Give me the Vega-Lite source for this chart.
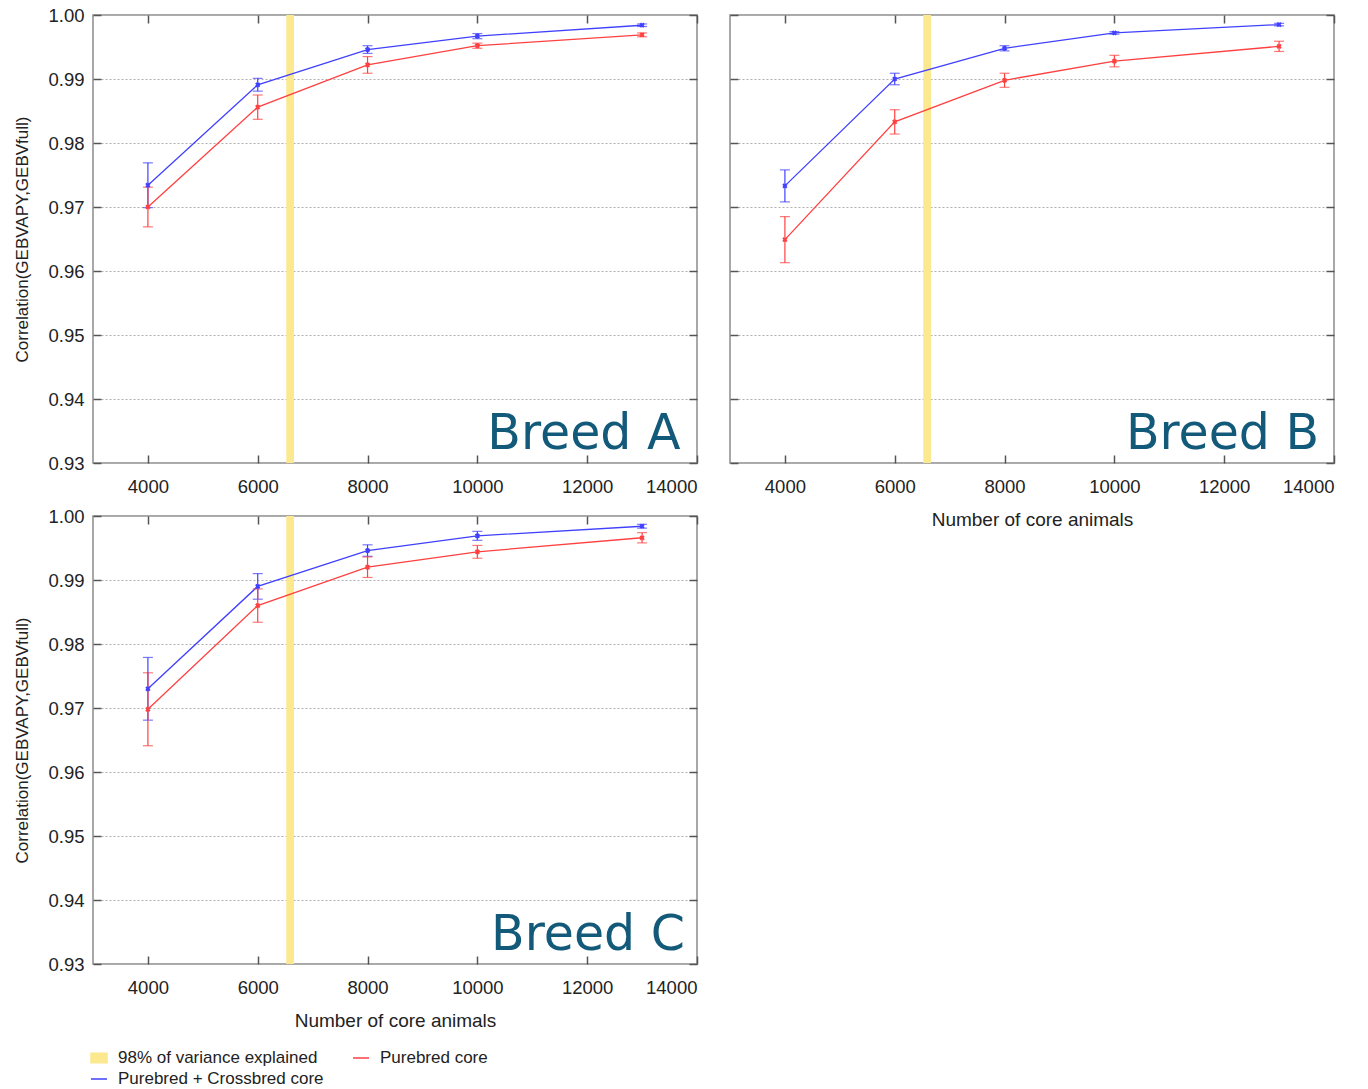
{
  "$schema": "https://vega.github.io/schema/vega-lite/v6.json",
  "background": "white",
  "padding": {"left": 13, "top": 5, "right": 5, "bottom": 5},
  "datasets": {
    "pts": [
      {"panel": "A", "series": "Purebred + Crossbred core", "n": 4000, "r": 0.9734, "lo": 0.9699, "hi": 0.9769},
      {"panel": "A", "series": "Purebred + Crossbred core", "n": 6000, "r": 0.9891, "lo": 0.9881, "hi": 0.9901},
      {"panel": "A", "series": "Purebred + Crossbred core", "n": 8000, "r": 0.9946, "lo": 0.9940, "hi": 0.9952},
      {"panel": "A", "series": "Purebred + Crossbred core", "n": 10000, "r": 0.9967, "lo": 0.9963, "hi": 0.9971},
      {"panel": "A", "series": "Purebred + Crossbred core", "n": 13000, "r": 0.9984, "lo": 0.9982, "hi": 0.9986},
      {"panel": "A", "series": "Purebred core", "n": 4000, "r": 0.9700, "lo": 0.9669, "hi": 0.9731},
      {"panel": "A", "series": "Purebred core", "n": 6000, "r": 0.9856, "lo": 0.9837, "hi": 0.9875},
      {"panel": "A", "series": "Purebred core", "n": 8000, "r": 0.9922, "lo": 0.9909, "hi": 0.9935},
      {"panel": "A", "series": "Purebred core", "n": 10000, "r": 0.9952, "lo": 0.9948, "hi": 0.9956},
      {"panel": "A", "series": "Purebred core", "n": 13000, "r": 0.9969, "lo": 0.9966, "hi": 0.9972},
      {"panel": "B", "series": "Purebred + Crossbred core", "n": 4000, "r": 0.9733, "lo": 0.9708, "hi": 0.9758},
      {"panel": "B", "series": "Purebred + Crossbred core", "n": 6000, "r": 0.9900, "lo": 0.9891, "hi": 0.9909},
      {"panel": "B", "series": "Purebred + Crossbred core", "n": 8000, "r": 0.9948, "lo": 0.9944, "hi": 0.9952},
      {"panel": "B", "series": "Purebred + Crossbred core", "n": 10000, "r": 0.9972, "lo": 0.9970, "hi": 0.9974},
      {"panel": "B", "series": "Purebred + Crossbred core", "n": 13000, "r": 0.9985, "lo": 0.9983, "hi": 0.9987},
      {"panel": "B", "series": "Purebred core", "n": 4000, "r": 0.9649, "lo": 0.9613, "hi": 0.9685},
      {"panel": "B", "series": "Purebred core", "n": 6000, "r": 0.9833, "lo": 0.9814, "hi": 0.9852},
      {"panel": "B", "series": "Purebred core", "n": 8000, "r": 0.9898, "lo": 0.9887, "hi": 0.9909},
      {"panel": "B", "series": "Purebred core", "n": 10000, "r": 0.9928, "lo": 0.9919, "hi": 0.9937},
      {"panel": "B", "series": "Purebred core", "n": 13000, "r": 0.9951, "lo": 0.9943, "hi": 0.9959},
      {"panel": "C", "series": "Purebred + Crossbred core", "n": 4000, "r": 0.9730, "lo": 0.9681, "hi": 0.9779},
      {"panel": "C", "series": "Purebred + Crossbred core", "n": 6000, "r": 0.9890, "lo": 0.9870, "hi": 0.9910},
      {"panel": "C", "series": "Purebred + Crossbred core", "n": 8000, "r": 0.9946, "lo": 0.9937, "hi": 0.9955},
      {"panel": "C", "series": "Purebred + Crossbred core", "n": 10000, "r": 0.9969, "lo": 0.9962, "hi": 0.9976},
      {"panel": "C", "series": "Purebred + Crossbred core", "n": 13000, "r": 0.9984, "lo": 0.9981, "hi": 0.9987},
      {"panel": "C", "series": "Purebred core", "n": 4000, "r": 0.9698, "lo": 0.9641, "hi": 0.9755},
      {"panel": "C", "series": "Purebred core", "n": 6000, "r": 0.9860, "lo": 0.9834, "hi": 0.9886},
      {"panel": "C", "series": "Purebred core", "n": 8000, "r": 0.9920, "lo": 0.9904, "hi": 0.9936},
      {"panel": "C", "series": "Purebred core", "n": 10000, "r": 0.9944, "lo": 0.9934, "hi": 0.9954},
      {"panel": "C", "series": "Purebred core", "n": 13000, "r": 0.9966, "lo": 0.9958, "hi": 0.9974}
    ],
    "band": [{"name": "98% of variance explained", "start": 6520, "end": 6660}],
    "labels": [
      {"panel": "A", "label": "Breed A"},
      {"panel": "B", "label": "Breed B"},
      {"panel": "C", "label": "Breed C"}
    ]
  },
  "concat": [
    {
      "width": 604, "height": 448,
      "layer": [
        {
          "data": {"name": "band"},
          "mark": {"type": "rect"},
          "encoding": {
            "x": {"field": "start", "type": "quantitative", "scale": {"domain": [3000, 14000], "nice": false, "zero": false},
                  "axis": {"orient": "bottom", "values": [4000, 6000, 8000, 10000, 12000, 14000], "format": "d", "title": null, "labelPadding": 22}},
            "x2": {"field": "end"},
            "color": {"field": "name", "type": "nominal",
                      "scale": {"domain": ["98% of variance explained", "Purebred + Crossbred core", "Purebred core"], "range": ["#fce88e", "#4040ff", "#ff4040"]},
                      "legend": {"title": null, "values": ["98% of variance explained", "Purebred + Crossbred core", "Purebred core"], "encode": {"symbols": {"update": {
                        "shape": {"signal": "datum.value === '98% of variance explained' ? 'M-1,-0.6H1V0.6H-1Z' : 'stroke'"},
                        "fill": {"signal": "datum.value === '98% of variance explained' ? '#fce88e' : 'transparent'"},
                        "stroke": {"signal": "datum.value === '98% of variance explained' ? '#fce88e' : (datum.value === 'Purebred core' ? '#ff4040' : '#4040ff')"},
                        "strokeWidth": {"value": 1.5},
                        "opacity": {"value": 1}
                      }}}}}
          }
        },
        {
          "data": {"name": "pts"},
          "transform": [{"filter": "datum.panel === 'A'"}],
          "mark": {"type": "line", "strokeWidth": 1.3},
          "encoding": {
            "x": {"field": "n", "type": "quantitative", "axis": {"orient": "top", "values": [4000, 6000, 8000, 10000, 12000, 14000], "labels": false, "title": null}},
            "y": {"field": "r", "type": "quantitative", "scale": {"domain": [0.93, 1.0], "nice": false, "zero": false},
                  "axis": {"orient": "left", "values": [0.93, 0.94, 0.95, 0.96, 0.97, 0.98, 0.99, 1.0], "format": ".2f", "grid": true, "labelPadding": 17, "title": "Correlation(GEBVAPY,GEBVfull)", "titlePadding": 16}},
            "color": {"field": "series", "type": "nominal", "scale": {"domain": ["98% of variance explained", "Purebred + Crossbred core", "Purebred core"], "range": ["#fce88e", "#4040ff", "#ff4040"]}}
          }
        },
        {
          "data": {"name": "pts"},
          "transform": [{"filter": "datum.panel === 'A'"}],
          "mark": {"type": "errorbar", "ticks": {"size": 10}, "thickness": 1.2},
          "encoding": {
            "x": {"field": "n", "type": "quantitative", "axis": null},
            "y": {"field": "lo", "type": "quantitative", "axis": {"orient": "right", "values": [0.93, 0.94, 0.95, 0.96, 0.97, 0.98, 0.99, 1.0], "labels": false, "title": null}},
            "y2": {"field": "hi"},
            "color": {"field": "series", "type": "nominal", "scale": {"domain": ["98% of variance explained", "Purebred + Crossbred core", "Purebred core"], "range": ["#fce88e", "#4040ff", "#ff4040"]}}
          }
        },
        {
          "data": {"name": "pts"},
          "transform": [{"filter": "datum.panel === 'A'"}],
          "mark": {"type": "point", "shape": "cross", "angle": 45, "filled": true, "size": 28, "opacity": 1},
          "encoding": {
            "x": {"field": "n", "type": "quantitative", "axis": null},
            "y": {"field": "r", "type": "quantitative", "axis": null},
            "color": {"field": "series", "type": "nominal", "scale": {"domain": ["98% of variance explained", "Purebred + Crossbred core", "Purebred core"], "range": ["#fce88e", "#4040ff", "#ff4040"]}}
          }
        },
        {
          "data": {"name": "labels"},
          "transform": [{"filter": "datum.panel === 'A'"}],
          "mark": {"type": "text", "align": "right", "baseline": "alphabetic", "font": "DejaVu Sans", "fontSize": 49, "color": "#135a7a"},
          "encoding": {
            "x": {"datum": 13700, "type": "quantitative", "axis": null},
            "y": {"datum": 0.9322, "type": "quantitative", "axis": null},
            "text": {"field": "label"}
          }
        }
      ],
      "resolve": {"axis": {"x": "independent", "y": "independent"}}
    },
    {
      "width": 604, "height": 448,
      "layer": [
        {
          "data": {"name": "band"},
          "mark": {"type": "rect"},
          "encoding": {
            "x": {"field": "start", "type": "quantitative", "scale": {"domain": [3000, 14000], "nice": false, "zero": false},
                  "axis": {"orient": "bottom", "values": [4000, 6000, 8000, 10000, 12000, 14000], "format": "d", "title": "Number of core animals", "labelPadding": 22, "titlePadding": 15}},
            "x2": {"field": "end"},
            "color": {"field": "name", "type": "nominal", "scale": {"domain": ["98% of variance explained", "Purebred + Crossbred core", "Purebred core"], "range": ["#fce88e", "#4040ff", "#ff4040"]}}
          }
        },
        {
          "data": {"name": "pts"},
          "transform": [{"filter": "datum.panel === 'B'"}],
          "mark": {"type": "line", "strokeWidth": 1.3},
          "encoding": {
            "x": {"field": "n", "type": "quantitative", "axis": {"orient": "top", "values": [4000, 6000, 8000, 10000, 12000, 14000], "labels": false, "title": null}},
            "y": {"field": "r", "type": "quantitative", "scale": {"domain": [0.93, 1.0], "nice": false, "zero": false},
                  "axis": {"orient": "left", "values": [0.93, 0.94, 0.95, 0.96, 0.97, 0.98, 0.99, 1.0], "grid": true, "labels": false, "title": null}},
            "color": {"field": "series", "type": "nominal", "scale": {"domain": ["98% of variance explained", "Purebred + Crossbred core", "Purebred core"], "range": ["#fce88e", "#4040ff", "#ff4040"]}}
          }
        },
        {
          "data": {"name": "pts"},
          "transform": [{"filter": "datum.panel === 'B'"}],
          "mark": {"type": "errorbar", "ticks": {"size": 10}, "thickness": 1.2},
          "encoding": {
            "x": {"field": "n", "type": "quantitative", "axis": null},
            "y": {"field": "lo", "type": "quantitative", "axis": {"orient": "right", "values": [0.93, 0.94, 0.95, 0.96, 0.97, 0.98, 0.99, 1.0], "labels": false, "title": null}},
            "y2": {"field": "hi"},
            "color": {"field": "series", "type": "nominal", "scale": {"domain": ["98% of variance explained", "Purebred + Crossbred core", "Purebred core"], "range": ["#fce88e", "#4040ff", "#ff4040"]}}
          }
        },
        {
          "data": {"name": "pts"},
          "transform": [{"filter": "datum.panel === 'B'"}],
          "mark": {"type": "point", "shape": "cross", "angle": 45, "filled": true, "size": 28, "opacity": 1},
          "encoding": {
            "x": {"field": "n", "type": "quantitative", "axis": null},
            "y": {"field": "r", "type": "quantitative", "axis": null},
            "color": {"field": "series", "type": "nominal", "scale": {"domain": ["98% of variance explained", "Purebred + Crossbred core", "Purebred core"], "range": ["#fce88e", "#4040ff", "#ff4040"]}}
          }
        },
        {
          "data": {"name": "labels"},
          "transform": [{"filter": "datum.panel === 'B'"}],
          "mark": {"type": "text", "align": "right", "baseline": "alphabetic", "font": "DejaVu Sans", "fontSize": 49, "color": "#135a7a"},
          "encoding": {
            "x": {"datum": 13730, "type": "quantitative", "axis": null},
            "y": {"datum": 0.9322, "type": "quantitative", "axis": null},
            "text": {"field": "label"}
          }
        }
      ],
      "resolve": {"axis": {"x": "independent", "y": "independent"}}
    },
    {
      "width": 604, "height": 448,
      "layer": [
        {
          "data": {"name": "band"},
          "mark": {"type": "rect"},
          "encoding": {
            "x": {"field": "start", "type": "quantitative", "scale": {"domain": [3000, 14000], "nice": false, "zero": false},
                  "axis": {"orient": "bottom", "values": [4000, 6000, 8000, 10000, 12000, 14000], "format": "d", "title": "Number of core animals", "labelPadding": 22, "titlePadding": 15}},
            "x2": {"field": "end"},
            "color": {"field": "name", "type": "nominal", "scale": {"domain": ["98% of variance explained", "Purebred + Crossbred core", "Purebred core"], "range": ["#fce88e", "#4040ff", "#ff4040"]}}
          }
        },
        {
          "data": {"name": "pts"},
          "transform": [{"filter": "datum.panel === 'C'"}],
          "mark": {"type": "line", "strokeWidth": 1.3},
          "encoding": {
            "x": {"field": "n", "type": "quantitative", "axis": {"orient": "top", "values": [4000, 6000, 8000, 10000, 12000, 14000], "labels": false, "title": null}},
            "y": {"field": "r", "type": "quantitative", "scale": {"domain": [0.93, 1.0], "nice": false, "zero": false},
                  "axis": {"orient": "left", "values": [0.93, 0.94, 0.95, 0.96, 0.97, 0.98, 0.99, 1.0], "format": ".2f", "grid": true, "labelPadding": 17, "title": "Correlation(GEBVAPY,GEBVfull)", "titlePadding": 16}},
            "color": {"field": "series", "type": "nominal", "scale": {"domain": ["98% of variance explained", "Purebred + Crossbred core", "Purebred core"], "range": ["#fce88e", "#4040ff", "#ff4040"]}}
          }
        },
        {
          "data": {"name": "pts"},
          "transform": [{"filter": "datum.panel === 'C'"}],
          "mark": {"type": "errorbar", "ticks": {"size": 10}, "thickness": 1.2},
          "encoding": {
            "x": {"field": "n", "type": "quantitative", "axis": null},
            "y": {"field": "lo", "type": "quantitative", "axis": {"orient": "right", "values": [0.93, 0.94, 0.95, 0.96, 0.97, 0.98, 0.99, 1.0], "labels": false, "title": null}},
            "y2": {"field": "hi"},
            "color": {"field": "series", "type": "nominal", "scale": {"domain": ["98% of variance explained", "Purebred + Crossbred core", "Purebred core"], "range": ["#fce88e", "#4040ff", "#ff4040"]}}
          }
        },
        {
          "data": {"name": "pts"},
          "transform": [{"filter": "datum.panel === 'C'"}],
          "mark": {"type": "point", "shape": "cross", "angle": 45, "filled": true, "size": 28, "opacity": 1},
          "encoding": {
            "x": {"field": "n", "type": "quantitative", "axis": null},
            "y": {"field": "r", "type": "quantitative", "axis": null},
            "color": {"field": "series", "type": "nominal", "scale": {"domain": ["98% of variance explained", "Purebred + Crossbred core", "Purebred core"], "range": ["#fce88e", "#4040ff", "#ff4040"]}}
          }
        },
        {
          "data": {"name": "labels"},
          "transform": [{"filter": "datum.panel === 'C'"}],
          "mark": {"type": "text", "align": "right", "baseline": "alphabetic", "font": "DejaVu Sans", "fontSize": 49, "color": "#135a7a"},
          "encoding": {
            "x": {"datum": 13780, "type": "quantitative", "axis": null},
            "y": {"datum": 0.9322, "type": "quantitative", "axis": null},
            "text": {"field": "label"}
          }
        }
      ],
      "resolve": {"axis": {"x": "independent", "y": "independent"}}
    }
  ],
  "columns": 2,
  "spacing": {"row": 53, "column": 33},
  "bounds": "flush",
  "config": {
    "view": {"stroke": "#8c8c8c", "strokeWidth": 1.5},
    "axis": {
      "labelFont": "Liberation Sans", "labelFontSize": 18.5, "labelColor": "#222",
      "titleFont": "Liberation Sans", "titleFontSize": 19, "titleFontWeight": "normal", "titleColor": "#222",
      "tickColor": "#555", "tickSize": -8, "tickWidth": 1.5,
      "domain": false, "grid": false,
      "gridColor": "#b0b0b0", "gridDash": [2, 2], "gridWidth": 1
    },
    "axisLeft": {"titleFontSize": 17},
    "legend": {
      "orient": "none", "legendX": -3, "legendY": 1034,
      "columns": 2, "columnPadding": 26, "rowPadding": 4,
      "symbolSize": 256, "symbolType": "stroke", "labelLimit": 400,
      "labelFont": "Liberation Sans", "labelFontSize": 17, "labelColor": "#222", "labelOffset": 10
    }
  }
}
